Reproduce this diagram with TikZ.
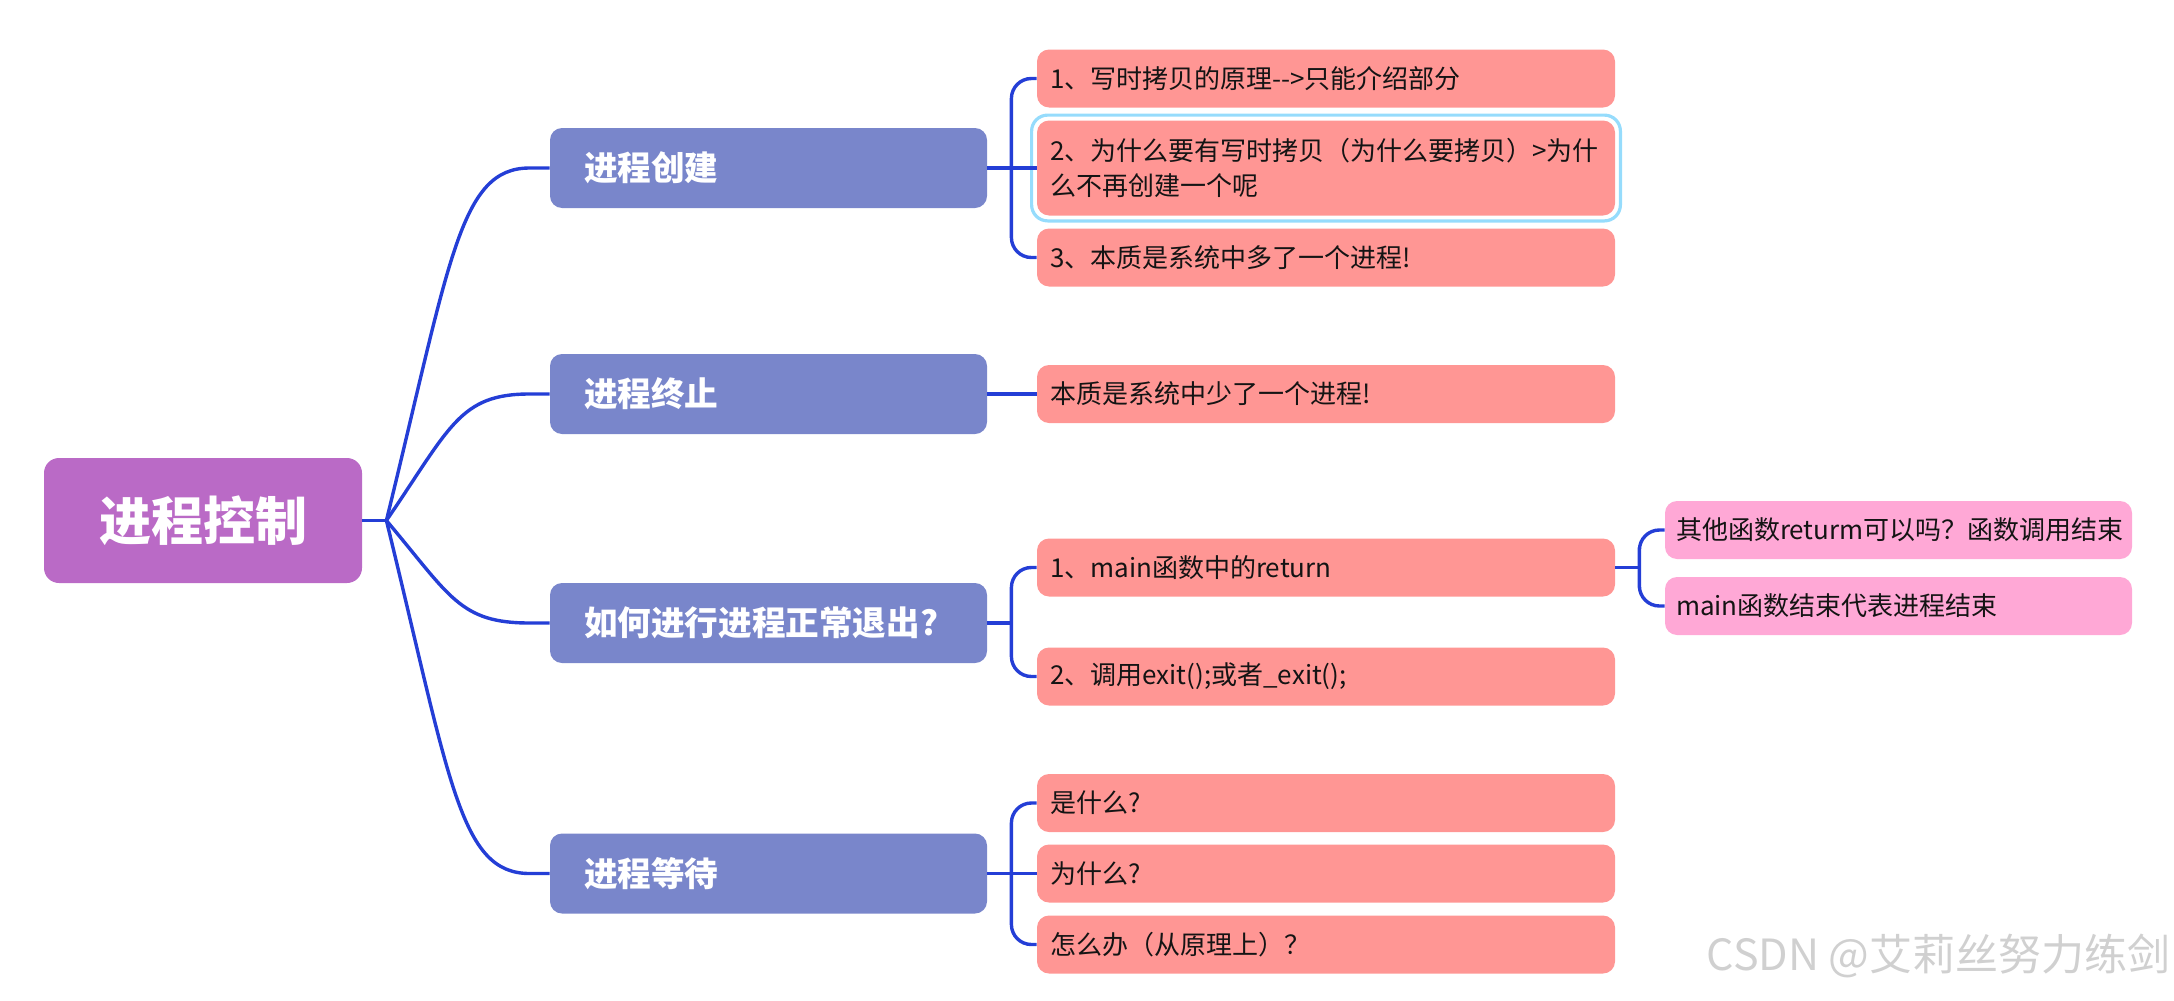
\documentclass[tikz,border=0pt]{standalone}
\usepackage{fontspec}
\setmainfont{Noto Sans CJK SC}
\usetikzlibrary{calc}
\definecolor{rootc}{RGB}{186,106,198}
\definecolor{lonec}{RGB}{121,134,203}
\definecolor{ltwoc}{RGB}{255,150,148}
\definecolor{lthreec}{RGB}{255,168,214}
\definecolor{linec}{RGB}{36,62,214}
\definecolor{hlc}{RGB}{150,220,252}
\definecolor{wmc}{RGB}{208,208,208}
\definecolor{txtc}{RGB}{20,20,20}
\tikzset{
  conn/.style={draw=linec, line width=1.7pt},
  rootbox/.style={fill=rootc, rounded corners=7.5pt, minimum width=159pt, minimum height=62.5pt,
    inner sep=0pt, text=white, font=\bfseries\fontsize{26}{30}\selectfont},
  lonebox/.style={fill=lonec, rounded corners=6pt, inner xsep=17pt, inner ysep=0pt,
    text width=184.5pt, minimum height=40pt, align=left, text=white,
    font=\bfseries\fontsize{16.8}{20}\selectfont},
  ltwobox/.style={fill=ltwoc, rounded corners=6pt, inner xsep=6.5pt, inner ysep=0pt,
    text width=276pt, minimum height=29pt, align=left, text=txtc,
    font=\fontsize{13}{17.5}\selectfont},
  lthreebox/.style={fill=lthreec, rounded corners=6pt, inner xsep=5.5pt, inner ysep=0pt,
    text width=222.5pt, minimum height=29pt, align=left, text=txtc,
    font=\fontsize{13}{17.5}\selectfont},
}
\newcommand{\mmcurve}[2]{%
  \draw[conn] (#1) .. controls ($(#1)!0.74!(#1|-#2.west)+(64,0)$) and ($(#2.west)+(-90,0)$) .. ($(#2.west)+(-20,0)$) -- (#2.west);}
\begin{document}
\begin{tikzpicture}[x=0.5pt,y=-0.5pt]
\useasboundingbox (0,0) rectangle (2174,1001);

% root
\node[rootbox] (root) at (203,520.5) {进程控制};

% level 1
\node[lonebox] (create) at (768.5,168) {进程创建};
\node[lonebox] (term) at (768.5,394) {进程终止};
\node[lonebox] (exitq) at (768.5,623) {如何进行进程正常退出?};
\node[lonebox] (wait) at (768.5,873.5) {进程等待};

% level 2
\node[ltwobox] (c1) at (1326,78.5) {1、写时拷贝的原理-{}-{}>只能介绍部分};
\node[ltwobox, minimum height=47.5pt] (c2) at (1326,168) {2、为什么要有写时拷贝（为什么要拷贝）>为什\\么不再创建一个呢};
\node[ltwobox] (c3) at (1326,257.5) {3、本质是系统中多了一个进程!};
\node[ltwobox] (t1) at (1326,394) {本质是系统中少了一个进程!};
\node[ltwobox] (e1) at (1326,567.5) {1、main函数中的return};
\node[ltwobox] (e2) at (1326,676.5) {2、调用exit();或者\_exit();};
\node[ltwobox] (w1) at (1326,803) {是什么?};
\node[ltwobox] (w2) at (1326,873.5) {为什么?};
\node[ltwobox] (w3) at (1326,944.5) {怎么办（从原理上）？};

% level 3
\node[lthreebox] (r1) at (1898.5,530) {其他函数returm可以吗？函数调用结束};
\node[lthreebox] (r2) at (1898.5,606) {main函数结束代表进程结束};

% highlight around c2
\draw[draw=hlc, line width=1.6pt, rounded corners=8pt]
  ($(c2.north west)+(-5,-5)$) rectangle ($(c2.south east)+(5,5)$);

% root connectors
\coordinate (J) at ($(root.east)+(24,0)$);
\draw[conn] (root.east) -- (J);
\mmcurve{J}{create}
\mmcurve{J}{term}
\mmcurve{J}{exitq}
\mmcurve{J}{wait}

% create bracket
\coordinate (bc) at ($(create.east)+(24,0)$);
\draw[conn] (create.east) -- (bc) -- (c2.west);
\draw[conn, rounded corners=10pt] (c1.west) -| (bc) |- (c3.west);

% term
\draw[conn] (term.east) -- (t1.west);

% exit bracket
\coordinate (be) at ($(exitq.east)+(24,0)$);
\draw[conn] (exitq.east) -- (be);
\draw[conn, rounded corners=10pt] (e1.west) -| (be) |- (e2.west);

% return bracket
\coordinate (br) at ($(e1.east)+(24,0)$);
\draw[conn] (e1.east) -- (br);
\draw[conn, rounded corners=10pt] (r1.west) -| (br) |- (r2.west);

% wait bracket
\coordinate (bw) at ($(wait.east)+(24,0)$);
\draw[conn] (wait.east) -- (bw) -- (w2.west);
\draw[conn, rounded corners=10pt] (w1.west) -| (bw) |- (w3.west);

% watermark
\node[anchor=east, text=wmc, inner sep=0pt, font=\fontsize{21.5}{26}\selectfont] (wm) at (2171,956) {CSDN @艾莉丝努力练剑};
\end{tikzpicture}
\end{document}
